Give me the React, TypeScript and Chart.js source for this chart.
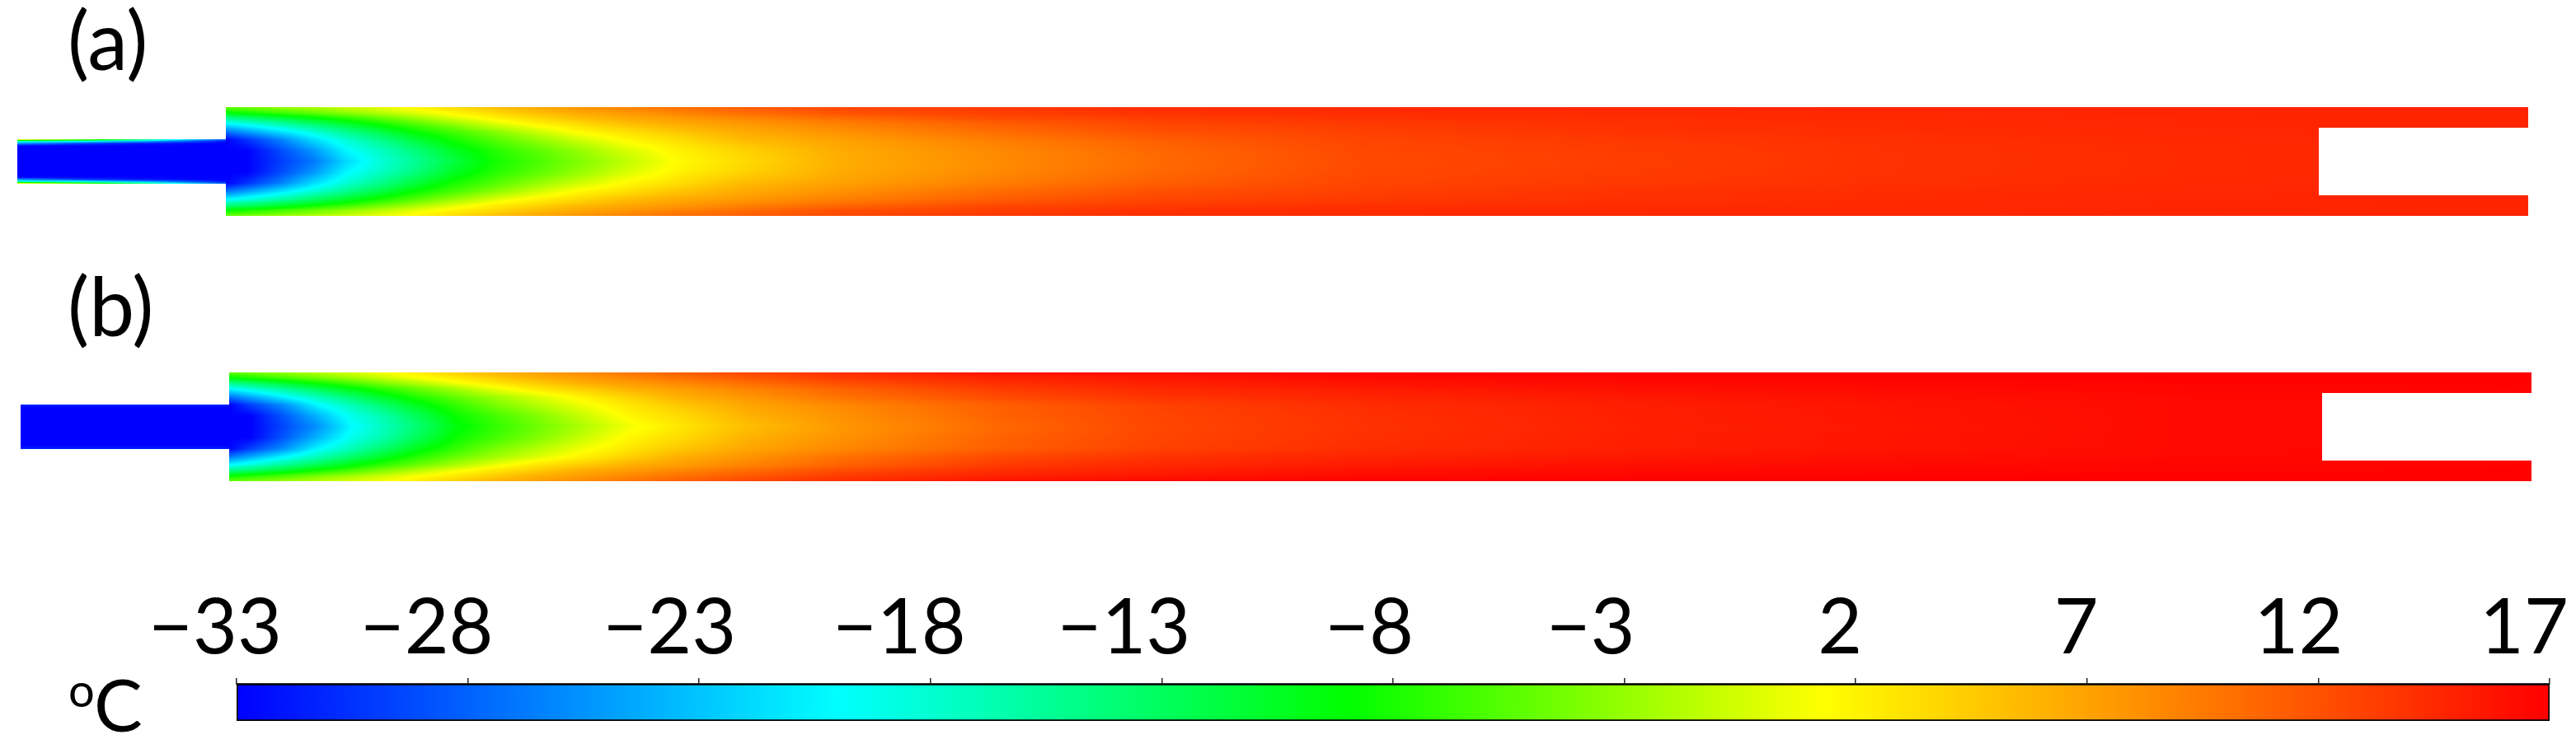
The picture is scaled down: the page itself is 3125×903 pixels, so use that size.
import React, { useEffect, useRef } from "react";
import { Chart, registerables } from "chart.js";

Chart.register(...registerables);

// ---- colour scale (°C) ----
const scaleTemps = [-33, -20, -9, 1.3, 17];
const scaleColors = [
  [0, 0, 255],
  [0, 255, 255],
  [0, 255, 0],
  [255, 255, 0],
  [255, 0, 0],
];
const tickLabels = ["\u221233", "\u221228", "\u221223", "\u221218", "\u221213", "\u22128", "\u22123", "2", "7", "12", "17"];
const labelShift = [-26, -50, -36, -38, -46, -29, -41, -19, -13, -24, -31];

// ---- tube outline, mm ----
const tubeX = [0, 25.3, 25.3, 304.6];
const tubeY = [2.7, 2.7, 6.6, 6.6];
const notchX = [279.2, 304.6];
const notchHalf = 4.1;

// ---- temperature readings ----
const inletStations = [0, 7.9, 15.1, 25.3];
const inletEta = [0, 0.7, 0.8, 0.9, 1];
const stations = [25.3, 27.9, 31.9, 35.9, 39.9, 43.9, 47.9, 52.9, 57.9, 62.9, 67.9, 73.9, 79.9, 87.9, 99.9, 119, 137.9, 163.6, 197.9, 227.9, 262.9, 279.2, 304.6];
const eta = [0, 0.2, 0.4, 0.55, 0.7, 0.8, 0.9, 1];

const inletA = [
  [-33, -33, -33, -33],
  [-33, -33, -33, -33],
  [-26, -30, -32, -33],
  [-19, -21, -25, -32],
  [4, -3, -12, -28],
];
const inletB = [
  [-33, -33, -33, -33],
  [-33, -33, -33, -33],
  [-33, -33, -33, -33],
  [-32.5, -32.5, -32.5, -32.5],
  [-31, -31, -31, -31],
];

const fieldA = [
  [-33, -33, -30, -27, -22, -18.5, -15.7, -11.8, -8.3, -6.2, -4, -1.3, 1.4, 3.5, 6.3, 8.4, 10.4, 12.5, 13.3, 14, 14.4, 14.5, 14.6],
  [-33, -33, -29.3, -25.3, -20.4, -17.5, -14.6, -10.6, -7.6, -5.4, -3.1, -0.3, 2, 4, 6.5, 8.6, 10.6, 12.6, 13.4, 14, 14.4, 14.5, 14.6],
  [-33, -30.4, -26.4, -21.8, -18.1, -15, -11.8, -8.2, -5.6, -3.1, -0.8, 1.7, 3.3, 5.5, 7.1, 9.3, 11.2, 12.8, 13.6, 14.1, 14.5, 14.6, 14.7],
  [-27, -24.8, -21.4, -18.2, -15, -12, -9, -6.2, -3.5, -0.8, 1.6, 3.2, 4.9, 6.5, 8.1, 10.4, 12.1, 13.1, 14, 14.3, 14.6, 14.7, 14.7],
  [-20.2, -18.5, -16, -13.3, -10.7, -8.1, -5.8, -2.9, 0, 2.1, 3.6, 5.4, 6.5, 7.6, 9.2, 11.3, 12.7, 13.5, 14.1, 14.4, 14.7, 14.7, 14.8],
  [-15, -13.6, -11.4, -9.3, -7.2, -5, -2.9, -0.1, 2.1, 3.7, 5.3, 6.6, 7.5, 8.8, 10.5, 12.5, 13.3, 14, 14.3, 14.5, 14.7, 14.8, 14.8],
  [-9, -8, -6.4, -4.8, -3.2, -1.6, 0.1, 2, 3.6, 5.3, 6.6, 7.7, 8.9, 10.3, 12.1, 13.2, 14, 14.3, 14.5, 14.6, 14.8, 14.8, 14.8],
  [-5, -4.2, -3, -1.9, -0.7, 0.4, 1.7, 3.5, 5.3, 6.7, 7.8, 9.1, 10.3, 11.3, 12.6, 13.6, 14.2, 14.5, 14.7, 14.8, 14.8, 14.9, 15],
];
const fieldB = [
  [-33, -33, -29.4, -25.7, -20.5, -17.3, -14.1, -9.5, -6.9, -4.5, -2.1, 0.8, 2.8, 5.2, 7.7, 10.6, 12.7, 14, 15.1, 15.7, 16.4, 16.5, 16.6],
  [-33, -33, -28.6, -23.9, -19.4, -16.5, -13, -8.6, -6.2, -3.7, -1.1, 1.8, 3.5, 6, 8.1, 11, 12.8, 14.1, 15.2, 15.8, 16.4, 16.5, 16.6],
  [-33, -29.8, -25.7, -20.5, -17.1, -13.7, -10.3, -6.9, -4, -1.7, 0.6, 2.8, 4.7, 6.7, 8.7, 11.2, 13, 14.3, 15.2, 15.8, 16.4, 16.5, 16.6],
  [-27, -24.4, -20.4, -17.1, -13.8, -10.6, -7.8, -4.9, -2.4, -0.1, 2, 4.2, 6.2, 7.8, 10.1, 12.5, 13.9, 14.8, 15.6, 16.1, 16.5, 16.6, 16.7],
  [-20.2, -18.3, -15.4, -12.5, -9.7, -7.2, -4.9, -2.1, 0.7, 2.9, 4.3, 6.2, 7.3, 8.9, 11, 13.4, 14.5, 15.4, 16.1, 16.4, 16.7, 16.7, 16.8],
  [-15, -13.5, -11.1, -8.7, -6.4, -4, -1.9, 0.8, 2.8, 4.5, 6.2, 7.4, 8.6, 10.2, 12.3, 14.2, 15.1, 15.9, 16.4, 16.6, 16.8, 16.8, 16.9],
  [-9, -7.9, -6.2, -4.4, -2.7, -0.9, 0.9, 2.7, 4.6, 6.2, 7.3, 8.7, 10, 11.5, 13.4, 14.9, 15.6, 16.4, 16.7, 16.8, 16.9, 16.9, 16.9],
  [-5, -4.2, -2.9, -1.6, -0.3, 1, 2.4, 4.2, 6, 7.2, 8.4, 9.8, 11.1, 12.7, 14.2, 16, 16.5, 16.9, 17, 17, 17, 17, 17],
];

const FONT = "Lato";
const TEXT = "#000000";

function bracket(list: number[], v: number) {
  let i = 0;
  while (i < list.length - 2 && v > list[i + 1]) i++;
  const t = Math.max(0, Math.min(1, (v - list[i]) / (list[i + 1] - list[i])));
  return [i, t];
}
function rgbOf(T: number) {
  const [i, t] = bracket(scaleTemps, T);
  const a = scaleColors[i];
  const b = scaleColors[i + 1];
  return [a[0] + (b[0] - a[0]) * t, a[1] + (b[1] - a[1]) * t, a[2] + (b[2] - a[2]) * t];
}
function sample(table: number[][], xs: number[], ys: number[], x: number, y: number) {
  const [i, s] = bracket(xs, x);
  const [j, r] = bracket(ys, y);
  const lo = table[j][i] * (1 - s) + table[j][i + 1] * s;
  const hi = table[j + 1][i] * (1 - s) + table[j + 1][i + 1] * s;
  return lo * (1 - r) + hi * r;
}

function fieldPattern(chart: any, field: number[][], inlet: number[][]) {
  if (chart.$pattern) return chart.$pattern;
  const { x, y } = chart.scales;
  const area = chart.chartArea;
  if (!area || !x || !y || !isFinite(x.getPixelForValue(0))) return "rgba(0,0,0,0)";
  const off = document.createElement("canvas");
  off.width = chart.width;
  off.height = chart.height;
  const c = off.getContext("2d")!;
  const img = c.createImageData(off.width, off.height);
  const bodyHalf = tubeY[tubeY.length - 1];
  const inletHalf = tubeY[0];
  const inletEnd = tubeX[1];
  for (let py = Math.floor(area.top); py < Math.ceil(area.bottom); py++) {
    const vy = Math.abs(y.getValueForPixel(py + 0.5));
    for (let px = Math.floor(area.left); px < Math.ceil(area.right); px++) {
      const vx = x.getValueForPixel(px + 0.5);
      const T = vx < inletEnd
        ? sample(inlet, inletStations, inletEta, vx, Math.min(1, vy / inletHalf))
        : sample(field, stations, eta, vx, Math.min(1, vy / bodyHalf));
      const [r, g, b] = rgbOf(T);
      const k = (py * off.width + px) * 4;
      img.data[k] = r;
      img.data[k + 1] = g;
      img.data[k + 2] = b;
      img.data[k + 3] = 255;
    }
  }
  c.putImageData(img, 0, 0);
  chart.$pattern = chart.ctx.createPattern(off, "no-repeat");
  return chart.$pattern;
}

const textPlugin = {
  id: "pageText",
  afterDraw(chart: any, _a: any, opts: any) {
    const { ctx } = chart;
    ctx.save();
    ctx.fillStyle = TEXT;
    ctx.textBaseline = "alphabetic";
    for (const t of opts.items || []) {
      ctx.font = `${t.size}px ${FONT}`;
      ctx.textAlign = t.align || "left";
      ctx.fillText(t.text, t.x, t.y);
    }
    const ax = chart.scales.temp;
    if (ax) {
      ctx.font = `93px ${FONT}`;
      ctx.textAlign = "center";
      ax.ticks.forEach((tk: any, i: number) => {
        ctx.fillText(tickLabels[i], ax.getPixelForValue(tk.value) + labelShift[i], opts.labelY);
      });
    }
    ctx.restore();
  },
};

function panelConfig(field: number[][], inlet: number[][], padding: any, label: string, labelY: number) {
  const line = (xs: number[], ys: number[], sign: number) => ({
    data: xs.map((x, i) => ({ x, y: sign * ys[i] })),
    showLine: true,
    pointRadius: 0,
    borderWidth: 0,
    fill: { value: 0 },
    backgroundColor: (ctx: any) => fieldPattern(ctx.chart, field, inlet),
  });
  return {
    type: "scatter",
    data: {
      datasets: [
        {
          data: notchX.map((x) => ({ x, y: notchHalf })),
          showLine: true,
          pointRadius: 0,
          borderWidth: 0,
          fill: { value: -notchHalf },
          backgroundColor: "#ffffff",
        },
        line(tubeX, tubeY, 1),
        line(tubeX, tubeY, -1),
      ],
    },
    options: {
      responsive: false,
      animation: false,
      events: [],
      layout: { padding },
      plugins: {
        legend: { display: false },
        tooltip: { enabled: false },
        pageText: { items: [{ text: label, x: 82, y: labelY, size: 98 }] },
      },
      scales: {
        x: { type: "linear", min: 0, max: tubeX[3], display: false },
        y: { type: "linear", min: -tubeY[3], max: tubeY[3], display: false },
      },
    },
    plugins: [textPlugin],
  };
}

function barConfig() {
  return {
    type: "bar",
    data: {
      labels: ["\u00b0C"],
      datasets: [
        {
          data: [[scaleTemps[0], scaleTemps[4]]],
          xAxisID: "temp",
          yAxisID: "cat",
          barPercentage: 1,
          categoryPercentage: 1,
          borderWidth: 2,
          borderColor: "#000000",
          borderSkipped: false,
          backgroundColor: (ctx: any) => {
            const ax = ctx.chart.scales.temp;
            if (!ax || !ctx.chart.chartArea || !isFinite(ax.getPixelForValue(scaleTemps[0]))) return "rgba(0,0,0,0)";
            const lo = ax.getPixelForValue(scaleTemps[0]);
            const hi = ax.getPixelForValue(scaleTemps[4]);
            const g = ctx.chart.ctx.createLinearGradient(lo, 0, hi, 0);
            scaleTemps.forEach((T, i) => {
              const [r, gg, b] = scaleColors[i];
              g.addColorStop((T - scaleTemps[0]) / (scaleTemps[4] - scaleTemps[0]), `rgb(${r},${gg},${b})`);
            });
            return g;
          },
        },
      ],
    },
    options: {
      indexAxis: "y",
      responsive: false,
      animation: false,
      events: [],
      layout: { padding: { left: 287, right: 32, top: 223, bottom: 28 } },
      plugins: {
        legend: { display: false },
        tooltip: { enabled: false },
        pageText: {
          labelY: 193,
          items: [
            { text: "o", x: 83, y: 258, size: 56 },
            { text: "C", x: 114, y: 288, size: 88 },
          ],
        },
      },
      scales: {
        temp: {
          type: "linear",
          axis: "x",
          position: "top",
          min: scaleTemps[0],
          max: scaleTemps[4],
          afterBuildTicks: (ax: any) => {
            ax.ticks = tickLabels.map((_, i) => ({ value: scaleTemps[0] + i * 5 }));
          },
          ticks: { display: false, autoSkip: false },
          grid: { drawOnChartArea: false, drawTicks: true, tickLength: 7, color: "#222222", lineWidth: 1.5 },
          border: { display: true, color: "#333333", width: 2 },
        },
        cat: { type: "category", axis: "y", display: false },
      },
    },
    plugins: [textPlugin],
  };
}

function Panel({ config, top, height }: { config: any; top: number; height: number }) {
  const ref = useRef<HTMLCanvasElement | null>(null);
  useEffect(() => {
    const chart = new Chart(ref.current!, config());
    chart.update();
    return () => chart.destroy();
  }, []);
  return (
    <canvas
      ref={ref}
      width={3125}
      height={height}
      style={{ position: "absolute", left: 0, top, width: 3125, height, display: "block" }}
    />
  );
}

export default function App() {
  useEffect(() => {
    document.body.style.margin = "0";
    document.body.style.background = "#ffffff";
    document.body.style.overflow = "hidden";
  }, []);
  return (
    <div style={{ position: "absolute", left: 0, top: 0, width: 3125, height: 903, background: "#ffffff", overflow: "hidden" }}>
      <Panel
        top={0}
        height={300}
        config={() => panelConfig(fieldA, inletA, { left: 21, right: 58, top: 130, bottom: 38 }, "(a)", 85)}
      />
      <Panel
        top={300}
        height={300}
        config={() => panelConfig(fieldB, inletB, { left: 25, right: 54, top: 152, bottom: 16 }, "(b)", 108)}
      />
      <Panel top={600} height={303} config={barConfig} />
    </div>
  );
}
